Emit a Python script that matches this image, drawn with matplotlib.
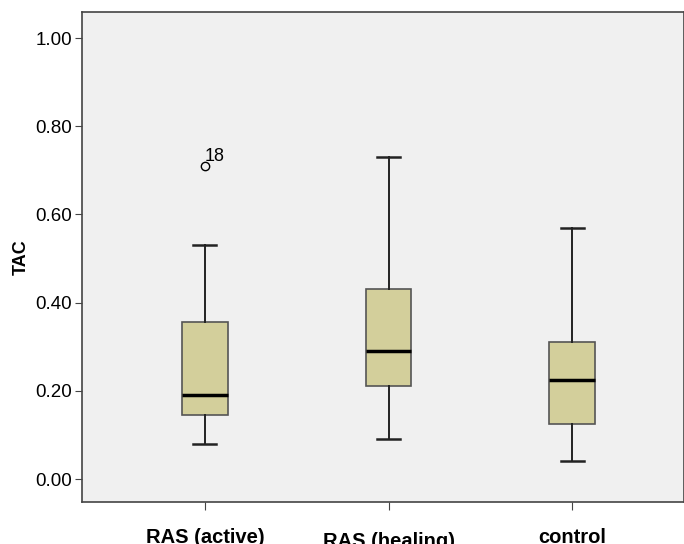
import matplotlib.pyplot as plt
from matplotlib.transforms import ScaledTranslation

plt.rcParams['font.family'] = ['Liberation Sans', 'DejaVu Sans']

# values
groups = ["RAS (active)", "RAS (healing)", "control"]
whislo = [0.08, 0.09, 0.04]
q1 = [0.145, 0.21, 0.125]
med = [0.19, 0.29, 0.225]
q3 = [0.355, 0.43, 0.31]
whishi = [0.53, 0.73, 0.57]
outliers = [[0.71], [], []]
outlier_ids = [["18"], [], []]

stats = []
for i in range(len(groups)):
    stats.append(dict(label=groups[i], whislo=whislo[i], q1=q1[i], med=med[i],
                      q3=q3[i], whishi=whishi[i], fliers=outliers[i]))

fig = plt.figure(figsize=(6.84, 5.44), dpi=100)
ax = fig.add_axes([82 / 684, 42 / 544, 602 / 684, 490 / 544])
ax.set_facecolor("#f0f0f0")

pos = [1, 2, 3]
ax.bxp(stats, positions=pos, widths=0.25, capwidths=0.125, patch_artist=True,
       boxprops=dict(facecolor="#d3cf9b", edgecolor="#555555", linewidth=1.2),
       medianprops=dict(color="black", linewidth=2.5),
       whiskerprops=dict(color="#222222", linewidth=1.4),
       capprops=dict(color="#222222", linewidth=1.8),
       flierprops=dict(marker="o", markerfacecolor="none", markeredgecolor="black",
                       markersize=6, markeredgewidth=1))

for i, ids in enumerate(outlier_ids):
    for v, lab in zip(outliers[i], ids):
        ax.annotate(lab, (pos[i], v), xytext=(0, 1), textcoords="offset points",
                    fontsize=13, ha="left", va="bottom")

ax.set_xlim(0.33, 3.61)
ax.set_ylim(-0.052, 1.059)
ax.set_yticks([0, 0.2, 0.4, 0.6, 0.8, 1.0])
ax.set_yticklabels(["0.00", "0.20", "0.40", "0.60", "0.80", "1.00"])
ax.set_xticks(pos)
ax.set_xticklabels(groups, fontweight="bold")
ax.tick_params(axis="y", labelsize=13.5, length=5, pad=2, color="#444444")
ax.tick_params(axis="x", labelsize=14.5, length=6, pad=13, color="#444444")
lbl = ax.get_xticklabels()[1]
lbl.set_transform(lbl.get_transform() + ScaledTranslation(0, -2.5 / 72, fig.dpi_scale_trans))
ax.set_ylabel("TAC", fontweight="bold", fontsize=13, labelpad=4)

for s in ax.spines.values():
    s.set_color("#444444")
    s.set_linewidth(1.2)

fig.savefig("out.png", dpi=100)
